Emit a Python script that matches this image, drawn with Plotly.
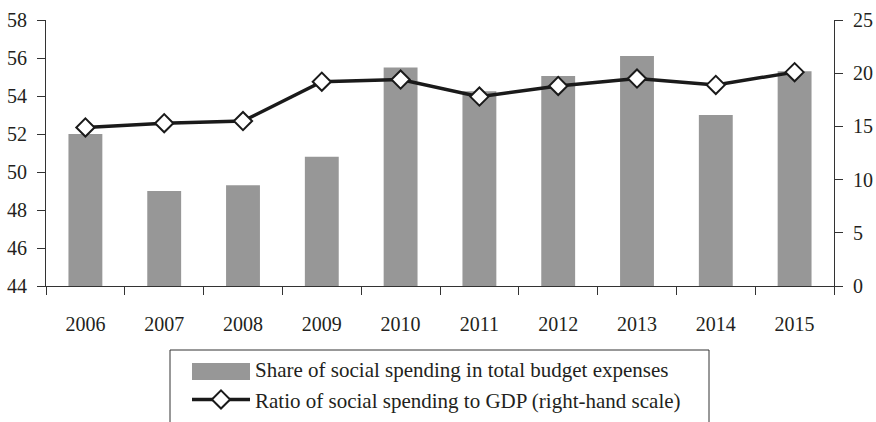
import plotly.graph_objects as go

years = ["2006", "2007", "2008", "2009", "2010", "2011", "2012", "2013", "2014", "2015"]
share_budget = [52.0, 49.0, 49.3, 50.8, 55.5, 54.25, 55.05, 56.1, 53.0, 55.3]
ratio_gdp = [14.9, 15.3, 15.5, 19.2, 19.4, 17.8, 18.8, 19.5, 18.9, 20.1]

bar_name = "Share of social spending in total budget expenses"
line_name = "Ratio of social spending to GDP (right-hand scale)"

FONT = "Liberation Serif"
TXT = "#231f20"
AX = "#333333"
BAR = "#979797"

# pixel layout helpers: paper spans x 46..834, y 20..422
PL, PR, PT, PB = 46, 834, 20, 422
def px(x):
    return (x - PL) / (PR - PL)
def py(y):
    return (PB - y) / (PB - PT)

fig = go.Figure()
fig.add_trace(go.Bar(
    x=years, y=share_budget, name=bar_name,
    marker=dict(color=BAR, line=dict(width=0)),
    showlegend=False,
))
# legend entry for the bars
fig.add_trace(go.Scatter(
    x=[None], y=[None], name=bar_name, mode="lines",
    line=dict(color=BAR, width=10),
))
fig.add_trace(go.Scatter(
    x=years, y=ratio_gdp, name=line_name, yaxis="y2",
    mode="lines+markers",
    line=dict(color="#1a1a1a", width=3.5),
    marker=dict(symbol="diamond", size=14, color="white",
                line=dict(color="#1a1a1a", width=2)),
))

axis_common = dict(
    showline=True, linecolor=AX, linewidth=1,
    ticks="outside", ticklen=8, tickcolor=AX, tickwidth=1,
    showgrid=False, zeroline=False,
    tickfont=dict(family=FONT, size=20, color=TXT),
    automargin=False,
)

ydom = [py(286), 1.0]

fig.update_layout(
    width=876, height=422,
    margin=dict(l=PL, r=876 - PR, t=PT, b=0),
    paper_bgcolor="white", plot_bgcolor="white",
    font=dict(family=FONT, size=20, color=TXT),
    bargap=0.57,
    xaxis=dict(type="category", tickson="boundaries", ticklabelstandoff=20,
               range=[-0.5, len(years) - 0.5], anchor="y", **axis_common),
    yaxis=dict(range=[44, 58], dtick=2, ticklabelstandoff=6, domain=ydom, **axis_common),
    yaxis2=dict(range=[0, 25], dtick=5, overlaying="y", side="right",
                ticklabelstandoff=6, **axis_common),
    showlegend=True,
    legend=dict(
        x=px(187), xanchor="left", y=py(420), yanchor="bottom",
        orientation="v", traceorder="normal", tracegroupgap=0,
        itemwidth=58, bgcolor="rgba(0,0,0,0)", borderwidth=0,
        font=dict(family=FONT, size=21, color=TXT),
    ),
)

# wide bar swatch behind the legend entry
fig.add_shape(type="rect", xref="paper", yref="paper", layer="below",
              x0=px(192), x1=px(250), y0=py(380), y1=py(363),
              fillcolor=BAR, line=dict(width=0))

# legend frame (bottom edge lies below the visible page)
x0, x1 = px(170), px(709)
ytop, ybot = py(350), py(440)
for xa, ya, xb, yb in [(x0, ytop, x1, ytop), (x0, ytop, x0, ybot), (x1, ytop, x1, ybot)]:
    fig.add_shape(type="line", xref="paper", yref="paper", x0=xa, y0=ya, x1=xb, y1=yb,
                  line=dict(color=AX, width=1))

fig.write_html("out.html")
